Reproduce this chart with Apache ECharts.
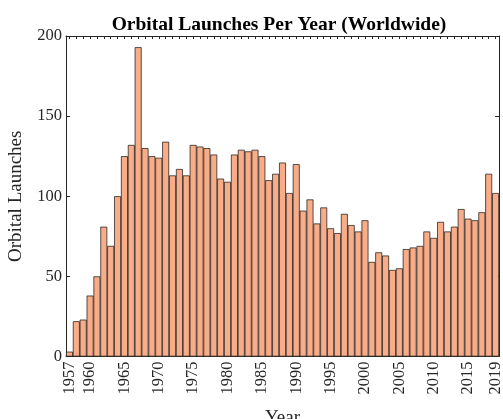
<!DOCTYPE html>
<html>
<head>
<meta charset="utf-8">
<script src="https://cdn.jsdelivr.net/npm/echarts@6/dist/echarts.min.js"></script>
<style>
  html, body { margin: 0; padding: 0; background: #fff; }
  #chart { width: 503px; height: 419px; }
</style>
</head>
<body>
<div id="chart"></div>
<script>
// Orbital launches per year, 1957–2019
const years = [];
for (let y = 1957; y <= 2019; y++) years.push(String(y));

const launches = [
  3, 22, 23, 38, 50, 81, 69, 100, 125, 132,      // 1957–1966
  193, 130, 125, 124, 134, 113, 117, 113, 132, 131, // 1967–1976
  130, 126, 111, 109, 126, 129, 128, 129, 125, 110, // 1977–1986
  114, 121, 102, 120, 91, 98, 83, 93, 80, 77,     // 1987–1996
  89, 82, 78, 85, 59, 65, 63, 54, 55, 67,         // 1997–2006
  68, 69, 78, 74, 84, 78, 81, 92, 86, 85,         // 2007–2016
  90, 114, 102                                    // 2017–2019
];

const labelledYears = ['1957', '1960', '1965', '1970', '1975', '1980', '1985', '1990',
  '1995', '2000', '2005', '2010', '2015', '2019'];
const yTicks = [0, 50, 100, 150, 200];

const FONT = '"Liberation Serif", "Times New Roman", serif';
const INK = '#262626';
const BAR_FILL = '#F8AD88';

const chart = echarts.init(document.getElementById('chart'), null, { renderer: 'canvas' });

const labelSet = new Set(labelledYears);

chart.setOption({
  animation: false,
  backgroundColor: '#fff',
  title: {
    text: 'Orbital Launches Per Year (Worldwide)',
    left: 274,
    textAlign: 'center',
    top: 10,
    textStyle: { fontFamily: FONT, fontWeight: 'bold', fontSize: 19.5, color: '#000' }
  },
  grid: { left: 66, right: 4, top: 36, bottom: 62.5, containLabel: false, outerBoundsMode: 'none' },
  xAxis: [
    {
      type: 'category',
      data: years,
      position: 'bottom',
      boundaryGap: true,
      name: 'Year',
      nameLocation: 'middle',
      nameGap: 52,
      nameTextStyle: { fontFamily: FONT, fontSize: 19, color: INK },
      axisLine: { onZero: false, lineStyle: { color: INK, width: 1 } },
      axisTick: { show: true, inside: true, length: 3, alignWithLabel: true, interval: 0,
        lineStyle: { color: INK } },
      axisLabel: {
        interval: 0,
        rotate: 90,
        margin: 5,
        fontFamily: FONT, fontSize: 16.5, color: INK,
        formatter: v => labelSet.has(v) ? v : ''
      },
      splitLine: { show: false }
    },
    {
      type: 'category',
      data: years,
      position: 'top',
      boundaryGap: true,
      axisLine: { onZero: false, lineStyle: { color: INK, width: 1 } },
      axisTick: { show: true, inside: true, length: 3, alignWithLabel: true, interval: 0,
        lineStyle: { color: INK } },
      axisLabel: { show: false },
      splitLine: { show: false }
    }
  ],
  yAxis: [
    {
      type: 'value',
      min: yTicks[0],
      max: yTicks[yTicks.length - 1],
      interval: 50,
      position: 'left',
      name: 'Orbital Launches',
      nameLocation: 'middle',
      nameGap: 40,
      nameTextStyle: { fontFamily: FONT, fontSize: 19, color: INK },
      axisLine: { show: true, onZero: false, lineStyle: { color: INK, width: 1 } },
      axisTick: { show: true, inside: true, length: 4, lineStyle: { color: INK } },
      axisLabel: { margin: 4, fontFamily: FONT, fontSize: 16.5, color: INK },
      splitLine: { show: false }
    },
    {
      type: 'value',
      min: yTicks[0],
      max: yTicks[yTicks.length - 1],
      interval: 50,
      position: 'right',
      axisLine: { show: true, onZero: false, lineStyle: { color: INK, width: 1 } },
      axisTick: { show: true, inside: true, length: 4, lineStyle: { color: INK } },
      axisLabel: { show: false },
      splitLine: { show: false }
    }
  ],
  series: [
    {
      type: 'bar',
      data: launches,
      xAxisIndex: 0,
      yAxisIndex: 0,
      barCategoryGap: '0%',
      itemStyle: { color: BAR_FILL, borderColor: '#111', borderWidth: 0.7 },
      z: 1
    }
  ]
});
</script>
</body>
</html>
